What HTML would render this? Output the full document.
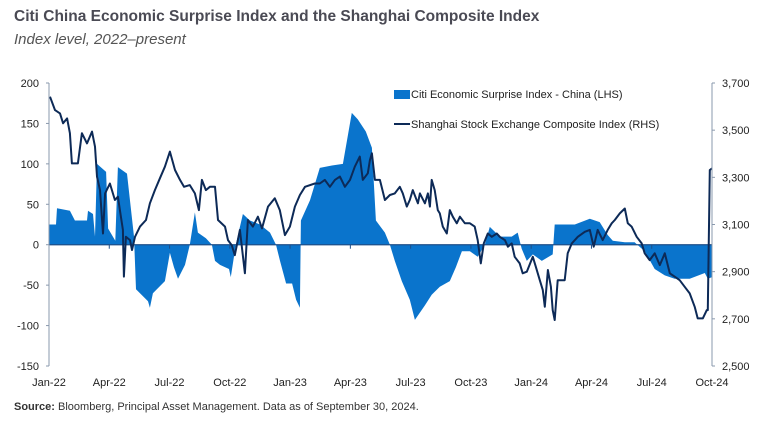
<!DOCTYPE html>
<html><head><meta charset="utf-8"><style>
body{margin:0;background:#fff;width:768px;height:422px;overflow:hidden;font-family:"Liberation Sans",sans-serif}
</style></head><body>
<svg id="c" width="768" height="422" xmlns="http://www.w3.org/2000/svg">
<text x="14" y="21" font-size="15.5" font-weight="bold" fill="#4a4a54">Citi China Economic Surprise Index and the Shanghai Composite Index</text>
<text x="14" y="44" font-size="15" font-style="italic" fill="#555">Index level, 2022–present</text>
<text x="14" y="410" font-size="11" fill="#333"><tspan font-weight="bold">Source:</tspan> Bloomberg, Principal Asset Management. Data as of September 30, 2024.</text>
<g id="plot"></g>
</svg>
<script>
const xTickLabels=["Jan-22","Apr-22","Jul-22","Oct-22","Jan-23","Apr-23","Jul-23","Oct-23","Jan-24","Apr-24","Jul-24","Oct-24"];
const leftTicks=[200,150,100,50,0,-50,-100,-150];
const rightTicks=[3700,3500,3300,3100,2900,2700,2500];
const cesiMonths=[0,0.35,0.4,1.04,1.29,1.89,1.94,2.19,2.29,2.39,2.84,2.94,3.3,3.43,3.88,4.23,4.33,4.93,5.02,5.17,5.77,6.02,6.22,6.42,6.77,7.01,7.26,7.41,7.81,8.11,8.26,8.51,8.96,9.05,9.3,9.65,10,10.5,11,11.3,11.5,11.8,12.1,12.3,12.49,12.54,12.99,13.48,14.08,14.63,15.07,15.37,15.77,16.07,16.27,16.72,16.97,17.21,17.56,17.96,18.21,18.71,19.05,19.45,19.95,20.25,20.55,20.95,21.34,21.69,21.94,22.44,23.03,23.33,23.53,23.78,24.08,24.53,25.07,25.17,26.17,26.92,27.41,27.81,28.06,28.66,29.15,29.65,30.15,30.65,31.14,31.89,32.64,32.79,33];
const cesiValues=[25,25,45,42,30,30,42,38,10,100,90,20,5,96,88,10,-55,-70,-78,-60,-45,-10,-28,-42,-25,0,40,15,8,0,-20,-25,-30,-40,0,38,30,25,15,0,-20,-48,-48,-68,-78,30,55,95,98,100,163,155,140,120,30,15,0,-20,-45,-68,-93,-75,-62,-52,-45,-28,-8,-8,-15,0,22,10,10,15,-5,-20,-12,-20,-12,25,25,32,28,12,5,3,3,-8,-30,-38,-42,-42,-35,-42,-40];
const shMonths=[0.05,0.3,0.55,0.7,0.9,1.04,1.14,1.44,1.64,1.89,2.14,2.29,2.39,2.54,2.69,2.79,3.03,3.28,3.43,3.53,3.68,3.73,3.83,4.03,4.13,4.28,4.53,4.83,5.02,5.27,5.52,5.77,6.02,6.27,6.52,6.72,7.01,7.26,7.46,7.61,7.81,8.01,8.26,8.41,8.76,8.91,9.1,9.25,9.5,9.75,9.9,10.15,10.4,10.6,10.9,11.24,11.49,11.74,11.99,12.24,12.49,12.74,13.23,13.48,13.73,13.98,14.23,14.48,14.73,14.98,15.22,15.47,15.62,15.87,15.97,16.07,16.22,16.47,16.72,16.97,17.21,17.46,17.61,17.81,17.96,18.11,18.36,18.46,18.71,18.86,18.96,19.05,19.2,19.35,19.45,19.6,19.8,19.95,20.1,20.3,20.45,20.7,20.95,21.19,21.34,21.49,21.64,21.84,22.04,22.29,22.44,22.69,22.84,23.03,23.18,23.43,23.58,23.78,24.08,24.23,24.43,24.58,24.68,24.83,24.98,25.07,25.17,25.32,25.67,25.82,26.02,26.32,26.67,26.92,27.11,27.31,27.56,27.81,28.01,28.16,28.41,28.66,28.81,29.0,29.25,29.5,29.65,29.9,30.15,30.4,30.65,30.9,31.14,31.39,31.64,31.89,32.14,32.29,32.54,32.74,32.79,32.89,33.0];
const shValues=[3642,3585,3571,3529,3550,3487,3359,3359,3487,3444,3494,3430,3303,3246,3062,3232,3274,3204,3218,3161,3077,2879,3048,3034,2992,3048,3091,3119,3190,3246,3296,3345,3409,3331,3289,3260,3267,3232,3161,3289,3246,3260,3260,3119,3091,3034,3012,2970,3077,2893,3119,3091,3133,3084,3176,3211,3161,3055,3091,3176,3225,3260,3274,3274,3289,3260,3289,3303,3260,3289,3345,3388,3289,3317,3373,3402,3289,3289,3204,3225,3232,3260,3232,3176,3204,3246,3190,3232,3190,3232,3176,3289,3246,3161,3147,3091,3062,3161,3133,3105,3133,3105,3105,3091,3034,2935,3020,3062,3048,3062,3048,3034,3006,3020,2963,2935,2893,2900,2963,2921,2864,2822,2751,2907,2836,2737,2695,2864,2864,2978,3020,3048,3069,3077,3006,3077,3034,3077,3105,3119,3147,3168,3105,3091,3048,3020,2978,2949,2978,2928,2978,2893,2879,2864,2836,2808,2751,2702,2702,2737,2737,3331,3338];

const X0=49,X1=712,Y0=83,Y1=366;
const xs=m=>X0+(X1-X0)*m/33;
const yl=v=>Y1-(Y1-Y0)*(v+150)/350;
const yr=v=>Y1-(Y1-Y0)*(v-2500)/1200;
const NS="http://www.w3.org/2000/svg";
const g=document.getElementById('plot');
function mk(t,a,p){const e=document.createElementNS(NS,t);for(const k in a)e.setAttribute(k,a[k]);(p||g).appendChild(e);return e;}

// area
let d=`M${xs(cesiMonths[0])},${yl(0)}`;
cesiMonths.forEach((m,i)=>{d+=`L${xs(m).toFixed(1)},${yl(cesiValues[i]).toFixed(1)}`;});
d+=`L${xs(cesiMonths[cesiMonths.length-1])},${yl(0)}Z`;
const area=mk('path',{d:d,fill:'#0a74cc'});



// zero line
const zl=mk('line',{x1:X0,x2:X1,y1:yl(0),y2:yl(0),stroke:'#1e4f8a','stroke-width':1.2});


for(let i=1;i<xTickLabels.length-1;i++){
  const t=mk('line',{x1:xs(i*3),x2:xs(i*3),y1:yl(0),y2:yl(0)+4,stroke:'#1e4f8a'});
  
  
}

// line
const pts=shMonths.map((m,i)=>`${xs(m).toFixed(1)},${yr(shValues[i]).toFixed(1)}`).join(' ');
const ln=mk('polyline',{points:pts,fill:'none',stroke:'#0d2a57','stroke-width':2,'stroke-linejoin':'round'});



// axes
const la=mk('line',{x1:X0,x2:X0,y1:Y0,y2:Y1,stroke:'#8a99ad'});


const ra=mk('line',{x1:X1,x2:X1,y1:Y0,y2:Y1,stroke:'#8a99ad'});


leftTicks.forEach(v=>{
  const tk=mk('line',{x1:X0-3,x2:X0,y1:yl(v),y2:yl(v),stroke:'#8a99ad'});
  
  
  const t=mk('text',{x:39,y:yl(v)+4,'text-anchor':'end','font-size':11,fill:'#222'});
  t.textContent=v;
  
  
});
rightTicks.forEach(v=>{
  const tk=mk('line',{x1:X1,x2:X1+3,y1:yr(v),y2:yr(v),stroke:'#8a99ad'});
  
  
  const t=mk('text',{x:722,y:yr(v)+4,'font-size':11,fill:'#222'});
  t.textContent=v.toLocaleString('en-US');
  
  
});
xTickLabels.forEach((s,i)=>{
  const t=mk('text',{x:xs(i*3),y:386,'text-anchor':'middle','font-size':11,fill:'#222'});
  t.textContent=s;
  
  
});

// legend
const l1=mk('rect',{x:394,y:90,width:16,height:9,fill:'#0a74cc'});


const t1=mk('text',{x:411,y:98,'font-size':11,fill:'#222'});
t1.textContent='Citi Economic Surprise Index - China (LHS)';


const l2=mk('line',{x1:394,x2:410,y1:124,y2:124,stroke:'#0d2a57','stroke-width':2});


const t2=mk('text',{x:411,y:128,'font-size':11,fill:'#222'});
t2.textContent='Shanghai Stock Exchange Composite Index (RHS)';


</script>
</body></html>
